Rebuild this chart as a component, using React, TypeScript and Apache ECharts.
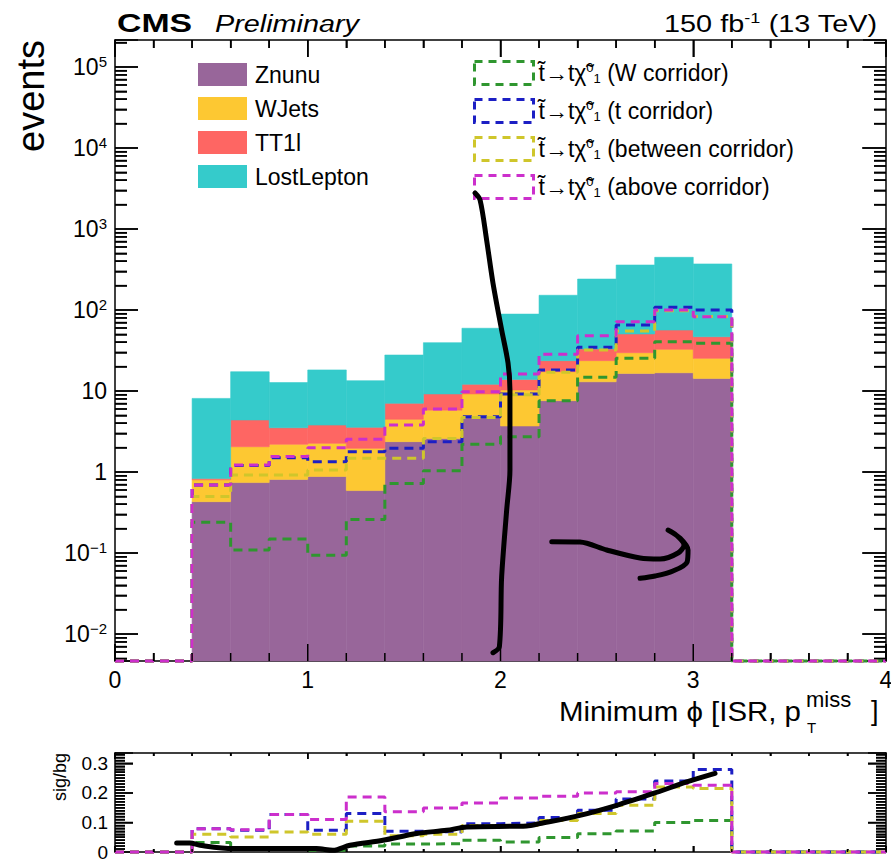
import React, { useEffect, useRef } from 'react';
import * as echarts from 'echarts';

// ---------------- data ----------------
const binEdges = [0.0, 0.2, 0.4, 0.6, 0.8, 1.0, 1.2, 1.4, 1.6, 1.8, 2.0, 2.2, 2.4, 2.6, 2.8, 3.0, 3.2, 3.4, 3.6, 3.8, 4.0];

// background components (events per bin)
const znunu = [0, 0, 0.43, 0.74, 0.81, 0.88, 0.59, 2.37, 2.6, 4.8, 3.7, 7.6, 13.0, 16.5, 16.8, 14.3, 0, 0, 0, 0];
const wjets = [0, 0, 0.37, 1.31, 1.39, 1.38, 1.37, 2.1, 3.2, 4.4, 6.6, 9.7, 10.7, 13.2, 15.9, 11.0, 0, 0, 0, 0];
const tt1l = [0, 0, 0.03, 2.34, 1.32, 1.54, 1.6, 2.58, 3.4, 2.9, 3.6, 6.4, 9.3, 20.9, 23.9, 21.5, 0, 0, 0, 0];
const lostLepton = [0, 0, 7.27, 12.9, 9.18, 14.4, 9.84, 20.75, 30.3, 47.4, 75.1, 128.3, 208, 308.4, 390.4, 323.2, 0, 0, 0, 0];

// signal models (events per bin)
const sigW = [0, 0, 0.24, 0.109, 0.149, 0.094, 0.26, 0.72, 1.04, 2.2, 2.73, 7.6, 14.8, 25.3, 40.6, 38.8, 0, 0, 0, 0];
const sigT = [0, 0, 0.69, 1.2, 1.5, 1.34, 1.78, 1.96, 2.37, 4.8, 9.2, 18.2, 34.6, 65.3, 108, 100, 0, 0, 0, 0];
const sigBetween = [0, 0, 0.5, 0.92, 0.92, 1.06, 1.48, 1.48, 2.6, 4.7, 9.0, 17, 32, 55, 98, 83, 0, 0, 0, 0];
const sigAbove = [0, 0, 0.69, 1.22, 1.55, 2.0, 2.53, 3.8, 6.0, 9.8, 16.2, 28.4, 48, 71.7, 100, 82.7, 0, 0, 0, 0];

// sig/bg ratio panel
const ratioW = [0, 0, 0.032, 0.01, 0.012, 0.006, 0.02, 0.027, 0.028, 0.04, 0.034, 0.049, 0.062, 0.071, 0.1, 0.107, 0, 0, 0, 0];
const ratioT = [0, 0, 0.079, 0.074, 0.127, 0.074, 0.13, 0.07, 0.068, 0.096, 0.098, 0.117, 0.141, 0.179, 0.24, 0.279, 0, 0, 0, 0];
const ratioBetween = [0, 0, 0.06, 0.051, 0.068, 0.06, 0.104, 0.055, 0.06, 0.09, 0.09, 0.107, 0.13, 0.158, 0.22, 0.215, 0, 0, 0, 0];
const ratioAbove = [0, 0, 0.079, 0.075, 0.127, 0.11, 0.186, 0.136, 0.149, 0.166, 0.183, 0.189, 0.2, 0.204, 0.232, 0.226, 0, 0, 0, 0];

// hand-drawn annotation strokes ([phi, value])
const strokeVertical = [[1.868, 2782], [1.894, 2280], [1.928, 731], [1.961, 215], [2.006, 56.6], [2.039, 22.2], [2.049, 10.3], [2.049, 1.06], [2.032, 0.34], [2.006, 0.051], [1.994, 0.00697], [1.961, 0.00588]];
const strokeHook = [[2.266, 0.138], [2.412, 0.1367], [2.551, 0.109], [2.724, 0.0867], [2.828, 0.0843], [2.921, 0.1], [2.952, 0.1256], [2.911, 0.167], [2.869, 0.192], [2.931, 0.153], [2.973, 0.109], [2.968, 0.0774], [2.895, 0.06], [2.802, 0.052], [2.724, 0.0487]];
const strokeRatio = [[0.32, 0.0305], [0.389, 0.0305], [0.441, 0.0227], [0.612, 0.0115], [1.046, 0.0115], [1.131, 0.0058], [1.219, 0.0227], [1.39, 0.0397], [1.565, 0.0624], [1.721, 0.0736], [1.825, 0.0847], [2.136, 0.0881], [2.205, 0.0963], [2.412, 0.124], [2.603, 0.158], [2.793, 0.198], [2.966, 0.237], [3.113, 0.266]];

const bgNames = ['Znunu', 'WJets', 'TT1l', 'LostLepton'];
const sigNames = ['W corridor', 't corridor', 'between corridor', 'above corridor'];
const xTickLabels = ['0', '1', '2', '3', '4'];

// ---------------- layout & styling ----------------
const W = 891;
const H = 861;
const G_LEFT = 115;
const G_RIGHT = 5;
const MAIN_TOP = 40;
const MAIN_BOTTOM = 200;
const RATIO_TOP = 753;
const RATIO_BOTTOM = 9;
const FONT = '"Liberation Sans", Arial, Helvetica, sans-serif';
const bgColors = ['#98669a', '#fdc832', '#fe6663', '#35cbcb'];
const sigColors = ['#2f962f', '#1c1fc4', '#cfc62b', '#cc2fcc'];
const X_MIN = 0;
const X_MAX = 4;
const Y_MIN = Math.pow(10, -2.333);
const Y_MAX = Math.pow(10, 5.333);
const R_MAX = 0.335;
const DASH = [9, 6];

const X_PX = (W - G_LEFT - G_RIGHT) / (X_MAX - X_MIN);
const R_PX = (H - RATIO_TOP - RATIO_BOTTOM) / R_MAX;

function stepPoints(vals: number[], floor: number) {
  const pts: number[][] = [];
  for (let i = 0; i < vals.length; i++) pts.push([binEdges[i], vals[i] > 0 ? vals[i] : floor]);
  const last = vals[vals.length - 1];
  pts.push([binEdges[vals.length], last > 0 ? last : floor]);
  return pts;
}

function stackRects(components: number[][]) {
  const out: number[][][] = components.map(() => []);
  for (let i = 0; i < components[0].length; i++) {
    let cum = 0;
    let total = 0;
    components.forEach((c) => (total += c[i]));
    if (total <= 0) continue;
    components.forEach((c, k) => {
      const lo = cum > 0 ? cum : Y_MIN;
      cum += c[i];
      if (c[i] > 0) out[k].push([binEdges[i], binEdges[i + 1], lo, cum]);
    });
  }
  return out;
}

const renderBin = (color: string) => (params: any, api: any) => {
  const p0 = api.coord([api.value(0), api.value(3)]);
  const p1 = api.coord([api.value(1), api.value(2)]);
  return {
    type: 'rect',
    shape: { x: p0[0], y: p0[1], width: p1[0] - p0[0], height: p1[1] - p0[1] },
    style: { fill: color, stroke: color, lineWidth: 0.6 },
  };
};

function isMultiple(v: number, step: number) {
  const r = Math.round(v / step);
  return Math.abs(v / step - r) < 1e-6;
}

function logLabel(v: number) {
  const e = Math.log10(v);
  const r = Math.round(e);
  if (Math.abs(e - r) > 1e-6) return '';
  if (r === 0) return '{b|1}';
  if (r === 1) return '{b|10}';
  return '{b|10}{s|' + (r < 0 ? '\u2212' + -r : String(r)) + '}';
}

// ratio-panel tick marks as broken polylines in data coordinates
function buildRatioTicks() {
  const ratio: any[] = [];
  for (let i = 0; i <= 20; i++) {
    const x = i * 0.2;
    const lr = isMultiple(x, 1) ? 6 : 3;
    ratio.push([x, 0], [x, lr / R_PX], null);
    ratio.push([x, R_MAX], [x, R_MAX - lr / R_PX], null);
  }
  for (let i = 1; i <= 33; i++) {
    const v = i * 0.01;
    const l = i % 10 === 0 ? 18 : 10;
    ratio.push([X_MIN, v], [X_MIN + l / X_PX, v], null);
    ratio.push([X_MAX, v], [X_MAX - l / X_PX, v], null);
  }
  return ratio;
}

// main-panel tick specs: [x, y, direction(0 up,1 down,2 right,3 left), length px]
function mainTickSpecs() {
  const out: number[][] = [];
  for (let i = 0; i <= 20; i++) {
    const x = i * 0.2;
    const l = isMultiple(x, 1) ? 17 : 8;
    out.push([x, Y_MIN, 0, l], [x, Y_MAX, 1, l]);
  }
  for (let n = -3; n <= 5; n++) {
    for (let k = 1; k <= 9; k++) {
      const v = k * Math.pow(10, n);
      if (v <= Y_MIN || v >= Y_MAX) continue;
      out.push([X_MIN, v, 2, k === 1 ? 23 : 12], [X_MAX, v, 3, k === 1 ? 24 : 12]);
    }
  }
  return out;
}

const tick = (len: number) => ({ show: true, inside: true, length: len, lineStyle: { color: '#000', width: 1.5 } });
const minor = (n: number, len: number) => ({ show: true, splitNumber: n, length: len, lineStyle: { color: '#000', width: 1.5 } });
const axisLine = () => ({ show: true, onZero: false, lineStyle: { color: '#000', width: 1.5 } });

const textGraphics: any[] = [
  { type: 'text', x: 117, y: 22.5, scaleX: 1.3, style: { text: 'CMS', font: 'bold 26px ' + FONT, fill: '#000', verticalAlign: 'middle' } },
  { type: 'text', x: 215, y: 23.5, scaleX: 1.2, style: { text: 'Preliminary', font: 'italic 24px ' + FONT, fill: '#000', verticalAlign: 'middle' } },
  {
    type: 'text', x: 877, y: 23.5, scaleX: 1.2,
    style: {
      text: '{n|150 fb}{s|-1}{n| (13 TeV)}', align: 'right', verticalAlign: 'middle', fill: '#000',
      rich: {
        n: { fontSize: 24, lineHeight: 26, fontFamily: FONT },
        s: { fontSize: 15, lineHeight: 15, verticalAlign: 'top', fontFamily: FONT },
      },
    },
  },
  { type: 'text', x: 801, y: 711, scaleX: 1.09, style: { text: 'Minimum \u03D5 [ISR, p', font: '27px ' + FONT, fill: '#000', align: 'right', verticalAlign: 'middle' } },
  { type: 'text', x: 806, y: 699, style: { text: 'miss', font: '22px ' + FONT, fill: '#000', align: 'left', verticalAlign: 'middle' } },
  { type: 'text', x: 807, y: 727, style: { text: 'T', font: '15px ' + FONT, fill: '#000', align: 'left', verticalAlign: 'middle' } },
  { type: 'text', x: 871, y: 711, style: { text: ']', font: '27px ' + FONT, fill: '#000', align: 'left', verticalAlign: 'middle' } },
  { type: 'text', x: 31, y: 40, rotation: Math.PI / 2, style: { text: 'events', font: '38px ' + FONT, fill: '#000', align: 'right', verticalAlign: 'middle' } },
  { type: 'text', x: 60, y: 753, rotation: Math.PI / 2, style: { text: 'sig/bg', font: '18px ' + FONT, fill: '#000', align: 'right', verticalAlign: 'middle' } },
];

export default function App() {
  const ref = useRef<HTMLDivElement>(null);
  useEffect(() => {
    if (!ref.current) return;
    const chart = echarts.init(ref.current, undefined, { renderer: 'svg' });
    const rects = stackRects([znunu, wjets, tt1l, lostLepton]);
    const sigMain = [sigW, sigT, sigBetween, sigAbove];
    const sigRatio = [ratioW, ratioT, ratioBetween, ratioAbove];

    const xAxisBase = (gridIndex: number, position: string, labels: boolean, major: number, mlen: number) => ({
      type: 'value', gridIndex, position, min: X_MIN, max: X_MAX, interval: 1,
      axisLine: axisLine(),
      axisTick: tick(major), minorTick: minor(5, mlen),
      splitLine: { show: false }, minorSplitLine: { show: false },
      axisLabel: {
        show: labels, color: '#000', fontSize: 23, fontFamily: FONT, margin: 7,
        formatter: (v: number) => xTickLabels[Math.round(v)] ?? '',
      },
    });
    const yLogAxis = (position: string, labels: boolean) => ({
      type: 'log', logBase: 10, gridIndex: 0, position, min: Y_MIN, max: Y_MAX,
      axisLine: axisLine(),
      axisTick: tick(23), minorTick: minor(9, 12),
      splitLine: { show: false }, minorSplitLine: { show: false },
      axisLabel: {
        show: labels, color: '#000', fontFamily: FONT, margin: 8, formatter: logLabel,
        rich: {
          b: { fontSize: 23, lineHeight: 26, fontFamily: FONT, color: '#000' },
          s: { fontSize: 15, lineHeight: 15, verticalAlign: 'top', fontFamily: FONT, color: '#000' },
        },
      },
    });
    const yRatioAxis = (position: string, labels: boolean) => ({
      type: 'value', gridIndex: 1, position, min: 0, max: R_MAX, interval: 0.1,
      axisLine: axisLine(),
      axisTick: tick(18), minorTick: minor(10, 10),
      splitLine: { show: false }, minorSplitLine: { show: false },
      axisLabel: {
        show: labels, color: '#000', fontSize: 19, fontFamily: FONT, margin: 7,
        formatter: (v: number) => {
          if (!isMultiple(v, 0.1)) return '';
          const r = Math.round(v * 10);
          return r === 0 ? '0' : (r / 10).toFixed(1);
        },
      },
    });

    const series: any[] = [];
    bgNames.forEach((name, k) => {
      series.push({
        type: 'custom', name, xAxisIndex: 0, yAxisIndex: 0, z: 2, silent: true,
        itemStyle: { color: bgColors[k] },
        encode: { x: [0, 1], y: [2, 3] },
        renderItem: renderBin(bgColors[k]),
        data: rects[k],
      });
    });
    sigNames.forEach((name, k) => {
      series.push({
        type: 'line', name, xAxisIndex: 0, yAxisIndex: 0, step: 'end', z: 20, clip: false, silent: true,
        showSymbol: false, symbol: 'none', color: sigColors[k],
        lineStyle: { color: sigColors[k], width: 3, type: DASH },
        data: stepPoints(sigMain[k], Y_MIN),
      });
      series.push({
        type: 'line', name: name + ' ratio', xAxisIndex: 2, yAxisIndex: 2, step: 'end', z: 20, clip: false, silent: true,
        showSymbol: false, symbol: 'none', color: sigColors[k],
        lineStyle: { color: sigColors[k], width: 3, type: DASH },
        data: stepPoints(sigRatio[k], 0),
      });
    });
    series.push({
      type: 'line', xAxisIndex: 2, yAxisIndex: 2, z: 25, silent: true, clip: false,
      showSymbol: false, symbol: 'none', connectNulls: false,
      lineStyle: { color: '#000', width: 1.5, type: 'solid' },
      data: buildRatioTicks(),
    });
    const annot = (data: number[][], xi: number, yi: number) => ({
      type: 'line', xAxisIndex: xi, yAxisIndex: yi, z: 30, silent: true, smooth: 0.3,
      showSymbol: false, symbol: 'none',
      lineStyle: { color: '#000', width: 5, cap: 'round', join: 'round' },
      data,
    });
    series.push(annot(strokeVertical, 0, 0));
    series.push(annot(strokeHook, 0, 0));
    series.push(annot(strokeRatio, 2, 2));

    const sigLegendFmt = (name: string) =>
      '{n|t\u0303\u2192t\u03C7\u0303}{sup|0}{sub|1}{n| (' + name + ')}';

    chart.setOption({
      animation: false,
      backgroundColor: '#fff',
      textStyle: { fontFamily: FONT, color: '#000' },
      grid: [
        { left: G_LEFT, right: G_RIGHT, top: MAIN_TOP, bottom: MAIN_BOTTOM, show: false, containLabel: false, outerBoundsMode: 'none' },
        { left: G_LEFT, right: G_RIGHT, top: RATIO_TOP, bottom: RATIO_BOTTOM, show: false, containLabel: false, outerBoundsMode: 'none' },
      ],
      xAxis: [
        xAxisBase(0, 'bottom', true, 17, 8),
        xAxisBase(0, 'top', false, 17, 8),
        xAxisBase(1, 'bottom', false, 6, 3),
        xAxisBase(1, 'top', false, 6, 3),
      ],
      yAxis: [yLogAxis('left', true), yLogAxis('right', false), yRatioAxis('left', true), yRatioAxis('right', false)],
      legend: [
        {
          left: 198, top: 63, orient: 'vertical', itemWidth: 49, itemHeight: 23, itemGap: 11, padding: 0,
          selectedMode: false,
          textStyle: { fontSize: 23, fontFamily: FONT, color: '#000', padding: [0, 0, 0, 3] },
          data: bgNames.map((name, k) => ({ name, icon: 'rect', itemStyle: { color: bgColors[k], borderWidth: 0 } })),
        },
        {
          left: 473, top: 60, orient: 'vertical', itemWidth: 59, itemHeight: 23, itemGap: 12, padding: 0,
          selectedMode: false,
          formatter: sigLegendFmt,
          textStyle: {
            fontSize: 23, fontFamily: FONT, color: '#000',
            rich: {
              n: { fontSize: 23, lineHeight: 24, fontFamily: FONT, color: '#000' },
              sup: { fontSize: 13, lineHeight: 13, verticalAlign: 'top', fontFamily: FONT, color: '#000' },
              sub: { fontSize: 13, lineHeight: 13, verticalAlign: 'bottom', fontFamily: FONT, color: '#000' },
            },
          },
          data: sigNames.map((name, k) => ({
            name, icon: 'rect',
            itemStyle: { color: 'rgba(0,0,0,0)', borderColor: sigColors[k], borderWidth: 3, borderType: [8, 6] },
          })),
        },
      ],
      graphic: textGraphics,
      series,
    });

    // main-panel tick marks placed through the axes' own scales
    try {
      const tickEls: any[] = [];
      mainTickSpecs().forEach(([x, y, d, L]) => {
        const p = chart.convertToPixel({ xAxisIndex: 0, yAxisIndex: 0 }, [x, y]) as number[];
        if (!p || !isFinite(p[0]) || !isFinite(p[1])) return;
        const dx = d === 2 ? L : d === 3 ? -L : 0;
        const dy = d === 0 ? -L : d === 1 ? L : 0;
        tickEls.push({
          type: 'line', silent: true, z: 50,
          shape: { x1: p[0], y1: p[1], x2: p[0] + dx, y2: p[1] + dy },
          style: { stroke: '#000', lineWidth: 1.5 },
        });
      });
      chart.setOption({ graphic: textGraphics.concat(tickEls) });
    } catch (e) {
      // keep the chart as drawn
    }
    return () => chart.dispose();
  }, []);
  return <div ref={ref} style={{ position: 'absolute', left: 0, top: 0, width: W, height: H, background: '#fff' }} />;
}
